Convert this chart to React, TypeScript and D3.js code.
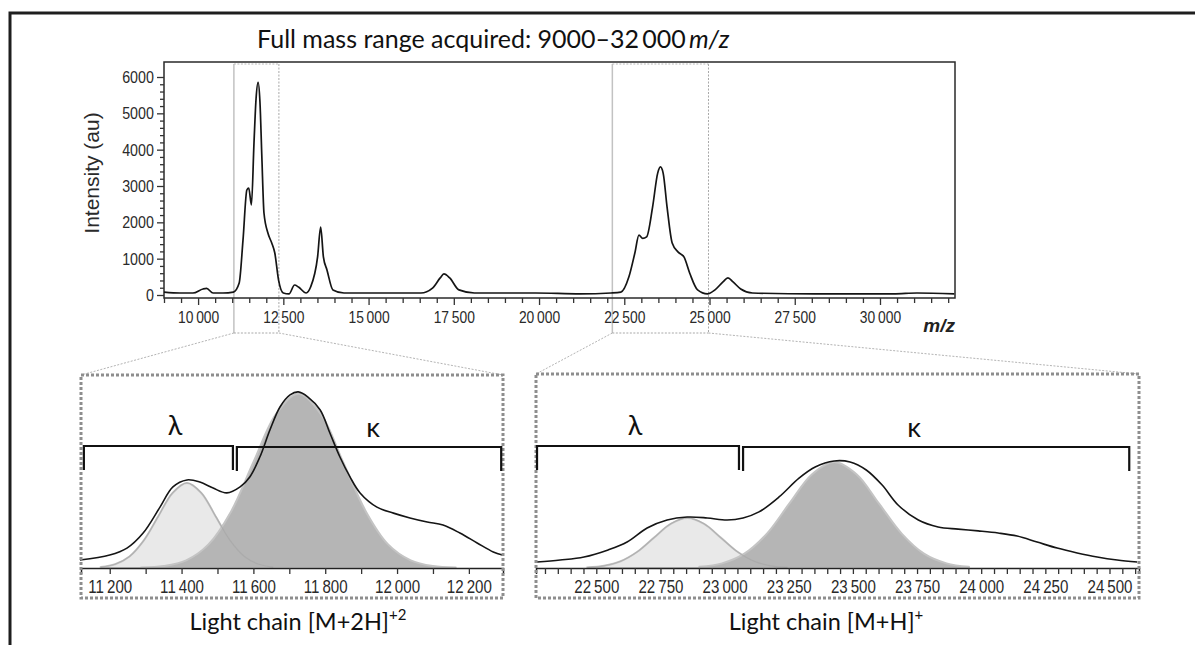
import React, { useEffect, useRef } from "react";
import * as d3 from "d3";

const W = 1195;
const H = 645;

// full spectrum, 9000-32 000 m/z
const fullMz = [
  9000, 9469, 9850, 10144, 10250, 10440, 10730, 11035, 11205, 11317, 11430, 11486, 11564,
  11640, 11700, 11760, 11815, 11870, 11933, 12050, 12160, 12250, 12360, 12500, 12665, 12830,
  12945, 13170, 13300, 13505, 13595, 13675, 13780, 13955, 14280, 15415, 16535, 16875, 17100,
  17210, 17380, 17650, 18105, 19900, 21200, 22110, 22400, 22636, 22810, 22930, 23040, 23155,
  23330, 23480, 23560, 23640, 23755, 23905, 24080, 24250, 24420, 24650, 24940, 25160, 25395,
  25540, 25690, 25915, 26260, 28090, 30400, 31085, 32180,
];
const fullIntensity = [
  80, 55, 55, 165, 180, 55, 55, 80, 330, 1510, 2890, 2945, 2480,
  4200, 5400, 5850, 5300, 3800, 2250, 1700, 1430, 1155, 410, 55, 30, 275,
  220, 55, 220, 1050, 1870, 1050, 690, 140, 55, 55, 55, 190, 470,
  580, 470, 140, 55, 55, 30, 55, 80, 500, 1155, 1650, 1560, 1600,
  2420, 3355, 3525, 3355, 2420, 1430, 1180, 1050, 600, 140, 30, 140, 360,
  470, 360, 165, 55, 30, 30, 55, 30,
];
const yTicks = [0, 1000, 2000, 3000, 4000, 5000, 6000];
const xTicks = [10000, 12500, 15000, 17500, 20000, 22500, 25000, 27500, 30000];
const zoomBoxes = [
  [11050, 12370],
  [22150, 24970],
];

// [M+2H]2+ panel
const dMz = [
  11117, 11200, 11248, 11293, 11340, 11376, 11415, 11451, 11488, 11526, 11563, 11590, 11618,
  11646, 11674, 11702, 11725, 11752, 11786, 11813, 11841, 11869, 11897, 11944, 11990, 12036,
  12084, 12128, 12175, 12223, 12268, 12293,
];
const dIntensity = [
  265, 430, 660, 1160, 2020, 2690, 2920, 2850, 2650, 2490, 2690, 3020, 3680,
  4575, 5340, 5740, 5840, 5670, 5240, 4475, 3680, 3020, 2490, 2020, 1820, 1660,
  1525, 1425, 1160, 830, 530, 430,
];
const dLambdaMz = [11175, 11215, 11255, 11295, 11335, 11375, 11415, 11455, 11495, 11535, 11575, 11615, 11655];
const dLambdaInt = [31, 124, 382, 916, 1710, 2489, 2820, 2489, 1710, 916, 382, 124, 31];
const dKappaMz = [11288, 11350, 11413, 11475, 11538, 11600, 11663, 11725, 11788, 11850, 11913, 11975, 12038, 12100, 12163];
const dKappaInt = [13, 64, 254, 782, 1877, 3506, 5101, 5780, 5101, 3506, 1877, 782, 254, 64, 13];
const dTicks = [11200, 11400, 11600, 11800, 12000, 12200];
const dLambdaRange = [11128, 11543];
const dKappaRange = [11554, 12290];

// [M+H]+ panel
const sMz = [
  22269, 22359, 22452, 22546, 22620, 22698, 22776, 22854, 22932, 23010, 23072, 23134, 23212,
  23290, 23353, 23427, 23489, 23552, 23614, 23676, 23755, 23832, 23910, 23988, 24066, 24140,
  24218, 24296, 24374, 24452, 24530, 24608,
];
const sIntensity = [
  200, 265, 365, 600, 860, 1325, 1590, 1690, 1660, 1590, 1660, 1860, 2355,
  2980, 3350, 3550, 3515, 3250, 2750, 2090, 1590, 1360, 1290, 1230, 1160, 1060,
  860, 660, 500, 365, 265, 200,
];
const sLambdaMz = [22465, 22530, 22595, 22660, 22725, 22790, 22855, 22920, 22985, 23050, 23115, 23180, 23245];
const sLambdaInt = [18, 73, 225, 539, 1007, 1465, 1660, 1465, 1007, 539, 225, 73, 18];
const sKappaMz = [22902, 22990, 23077, 23165, 23252, 23340, 23427, 23515, 23602, 23690, 23777, 23865, 23952];
const sKappaInt = [39, 154, 476, 1141, 2132, 3102, 3515, 3102, 2132, 1141, 476, 154, 39];
const sTicks = [22500, 22750, 23000, 23250, 23500, 23750, 24000, 24250, 24500];
const sLambdaRange = [22269, 23056];
const sKappaRange = [23072, 24577];

const AXIS_FONT = "'Liberation Sans', Arial, sans-serif";
const TEXT_FONT = "Lato, 'Open Sans', sans-serif";

const fmt = (d) => (d >= 10000 ? d3.format(",")(d).replace(",", "\u2009") : String(d));

function App() {
  const svgRef = useRef(null);

  useEffect(() => {
    const svg = d3.select(svgRef.current);
    svg.selectAll("*").remove();

    // outer frame
    svg.append("rect").attr("x", 10).attr("y", 13).attr("width", 1200).attr("height", 700)
      .attr("fill", "none").attr("stroke", "#1e1e1e").attr("stroke-width", 3);

    const title = svg.append("text").attr("x", 257).attr("y", 48)
      .attr("font-family", TEXT_FONT).attr("font-size", 25).attr("fill", "#111");
    title.append("tspan").text("Full mass range acquired: 9000\u201332\u2009000\u2009");
    title.append("tspan").attr("font-style", "italic").text("m/z");

    // ---- top chart ----
    const plot = { left: 164, right: 955, top: 62, bottom: 298 };
    const x = d3.scaleLinear().domain([9000, 32200]).range([plot.left, plot.right]);
    const y = d3.scaleLinear().domain([0, 6000]).range([295, 77]);

    const panels = [
      { left: 81, right: 503, top: 375, bottom: 598, axisY: 568, domain: [11120, 12295] },
      { left: 536, right: 1139, top: 374, bottom: 598, axisY: 568, domain: [22265, 24615] },
    ];

    // zoom boxes + connectors
    zoomBoxes.forEach(([a, b], i) => {
      const x1 = x(a), x2 = x(b), p = panels[i];
      const g = svg.append("g");
      g.append("line").attr("x1", x1).attr("x2", x1).attr("y1", 64).attr("y2", 333)
        .attr("stroke", "#c2c2c2").attr("stroke-width", 1.5);
      g.append("line").attr("x1", x2).attr("x2", x2).attr("y1", 64).attr("y2", 333)
        .attr("stroke", "#a8a8a8").attr("stroke-width", 1).attr("stroke-dasharray", "2,1.5");
      g.append("line").attr("x1", x1).attr("x2", x2).attr("y1", 64).attr("y2", 64)
        .attr("stroke", "#b8b8b8").attr("stroke-width", 1).attr("stroke-dasharray", "2,1.5");
      g.append("line").attr("x1", x1).attr("x2", x2).attr("y1", 333).attr("y2", 333)
        .attr("stroke", "#a8a8a8").attr("stroke-width", 1).attr("stroke-dasharray", "2,1.5");
      g.append("line").attr("x1", x1).attr("y1", 333).attr("x2", p.left).attr("y2", p.top)
        .attr("stroke", "#b4b4b4").attr("stroke-width", 1).attr("stroke-dasharray", "2,1.5");
      g.append("line").attr("x1", x2).attr("y1", 333).attr("x2", p.right).attr("y2", p.top)
        .attr("stroke", "#b4b4b4").attr("stroke-width", 1).attr("stroke-dasharray", "2,1.5");
    });

    svg.append("rect").attr("x", plot.left).attr("y", plot.top)
      .attr("width", plot.right - plot.left).attr("height", plot.bottom - plot.top)
      .attr("fill", "none").attr("stroke", "#2a2a2a").attr("stroke-width", 1.5);

    const fullLine = d3.line().x((d) => x(d[0])).y((d) => y(d[1])).curve(d3.curveMonotoneX);
    svg.append("path").datum(fullMz.map((m, i) => [m, fullIntensity[i]]))
      .attr("d", fullLine).attr("fill", "none").attr("stroke", "#151515").attr("stroke-width", 1.7);

    const yAxis = svg.append("g").attr("transform", `translate(${plot.left},0)`)
      .call(d3.axisLeft(y).tickValues(d3.range(0, 6001, 200)).tickSize(4).tickPadding(8)
        .tickFormat((d) => (yTicks.includes(d) ? String(d) : "")));
    yAxis.select(".domain").remove();
    yAxis.selectAll(".tick line").attr("stroke", "#333").attr("stroke-width", 1.3)
      .filter((d) => yTicks.includes(d)).attr("x2", -7);
    yAxis.selectAll("text").attr("font-family", AXIS_FONT).attr("font-size", 17)
      .attr("fill", "#2a2a2a").attr("transform", "scale(0.84,1)");

    const xAxis = svg.append("g").attr("transform", `translate(0,${plot.bottom})`)
      .call(d3.axisBottom(x).tickValues(d3.range(9000, 32001, 500)).tickSize(5).tickPadding(8)
        .tickFormat((d) => (xTicks.includes(d) ? fmt(d) : "")));
    xAxis.select(".domain").remove();
    xAxis.selectAll(".tick line").attr("stroke", "#333").attr("stroke-width", 1.3)
      .filter((d) => xTicks.includes(d)).attr("y2", 7);
    xAxis.selectAll("text").attr("font-family", AXIS_FONT).attr("font-size", 16.5)
      .attr("fill", "#2a2a2a").attr("transform", "scale(0.84,1)");

    svg.append("text").attr("x", plot.right).attr("y", 332).attr("text-anchor", "end")
      .attr("font-family", AXIS_FONT).attr("font-size", 19).attr("font-style", "italic")
      .attr("font-weight", "bold").attr("fill", "#222").text("m/z");

    svg.append("text").attr("transform", "translate(99,173) rotate(-90)")
      .attr("text-anchor", "middle").attr("font-family", AXIS_FONT).attr("font-size", 21)
      .attr("fill", "#2a2a2a").text("Intensity (au)");

    // ---- zoom panels ----
    const panelData = [
      {
        mz: dMz, inten: dIntensity, lMz: dLambdaMz, lInt: dLambdaInt, kMz: dKappaMz, kInt: dKappaInt,
        ticks: dTicks, tickStep: 100, lRange: dLambdaRange, kRange: dKappaRange,
        caption: "Light chain [M+2H]", sup: "+2", capX: 298,
      },
      {
        mz: sMz, inten: sIntensity, lMz: sLambdaMz, lInt: sLambdaInt, kMz: sKappaMz, kInt: sKappaInt,
        ticks: sTicks, tickStep: 50, lRange: sLambdaRange, kRange: sKappaRange,
        caption: "Light chain [M+H]", sup: "+", capX: 826,
      },
    ];

    panels.forEach((p, i) => {
      const d = panelData[i];
      const g = svg.append("g");
      const px = d3.scaleLinear().domain(p.domain).range([p.left, p.right]);
      const py = d3.scaleLinear().domain([0, 6400]).range([p.axisY, 375]);

      const area = d3.area().x((v) => px(v[0])).y0(py(0)).y1((v) => py(v[1])).curve(d3.curveCatmullRom);
      const lam = d.lMz.map((m, j) => [m, d.lInt[j]]);
      const kap = d.kMz.map((m, j) => [m, d.kInt[j]]);
      g.append("path").datum(lam).attr("d", area).attr("fill", "#e9e9e9")
        .attr("stroke", "#c8c8c8").attr("stroke-width", 2);
      g.append("path").datum(kap).attr("d", area).attr("fill", "#b5b5b5")
        .attr("stroke", "#c4c4c4").attr("stroke-width", 2);
      g.append("path").datum(lam).attr("d", area.lineY1()).attr("fill", "none")
        .attr("stroke", "#a6a6a6").attr("stroke-width", 1.2).attr("opacity", 0.7);

      const line = d3.line().x((v) => px(v[0])).y((v) => py(v[1])).curve(d3.curveCatmullRom);
      g.append("path").datum(d.mz.map((m, j) => [m, d.inten[j]])).attr("d", line)
        .attr("fill", "none").attr("stroke", "#151515").attr("stroke-width", 1.6);

      const start = Math.ceil(p.domain[0] / d.tickStep) * d.tickStep;
      const ax = g.append("g").attr("transform", `translate(0,${p.axisY})`)
        .call(d3.axisBottom(px).tickValues(d3.range(start, p.domain[1], d.tickStep)).tickSize(6)
          .tickPadding(6).tickFormat((v) => (d.ticks.includes(v) ? fmt(v) : "")));
      ax.select(".domain").attr("stroke", "#222").attr("stroke-width", 1.5);
      ax.selectAll(".tick line").attr("stroke", "#333").attr("stroke-width", 1.3);
      ax.selectAll("text").attr("font-family", AXIS_FONT).attr("font-size", 18)
        .attr("fill", "#2a2a2a").attr("transform", "scale(0.84,1)");

      // dotted panel border
      g.append("rect").attr("x", p.left).attr("y", p.top).attr("width", p.right - p.left)
        .attr("height", p.bottom - p.top).attr("fill", "none").attr("stroke", "#8e8e8e")
        .attr("stroke-width", 3).attr("stroke-dasharray", "3,2");

      // lambda / kappa brackets
      const bracket = (r, yb) =>
        `M${px(r[0])},${yb + 24}V${yb}H${px(r[1])}V${yb + 24}`;
      g.append("path").attr("d", bracket(d.lRange, 446)).attr("fill", "none")
        .attr("stroke", "#111").attr("stroke-width", 2.2);
      g.append("path").attr("d", bracket(d.kRange, 447)).attr("fill", "none")
        .attr("stroke", "#111").attr("stroke-width", 2.2);
      const lx = i === 0 ? 175 : 635;
      const kx = i === 0 ? 373 : 914;
      g.append("text").attr("x", lx).attr("y", 435).attr("text-anchor", "middle")
        .attr("font-family", TEXT_FONT).attr("font-size", 27).attr("fill", "#111").text("\u03bb");
      g.append("text").attr("x", kx).attr("y", 437).attr("text-anchor", "middle")
        .attr("font-family", TEXT_FONT).attr("font-size", 27).attr("fill", "#111").text("\u03ba");

      const cap = g.append("text").attr("x", d.capX).attr("y", 630).attr("text-anchor", "middle")
        .attr("font-family", TEXT_FONT).attr("font-size", 23.5).attr("fill", "#111");
      cap.append("tspan").text(d.caption);
      cap.append("tspan").attr("dy", -10).attr("font-size", 15).text(d.sup);
    });
  }, []);

  return (
    <svg ref={svgRef} width={W} height={H}
      style={{ position: "absolute", left: 0, top: 0, background: "#fff" }} />
  );
}

export default App;
